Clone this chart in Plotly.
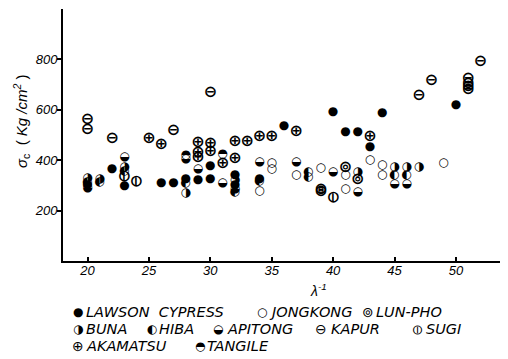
import plotly.graph_objects as go

# ---- data (lambda^-1, sigma_c in kg/cm2) ----
lawson_x = [20, 22, 23, 26, 27, 28, 29, 30, 30, 32, 32, 34, 36, 40, 41, 42, 43, 44, 50]
lawson_y = [300, 364, 297, 309, 309, 325, 321, 376, 325, 341, 301, 325, 535, 590, 511, 511, 452, 586, 621]

jongkong_x = [34, 35, 35, 37, 39, 41, 41, 43, 44, 44, 49]
jongkong_y = [277, 388, 364, 341, 368, 341, 285, 400, 380, 341, 390]

lunpho_x = [39, 39, 41, 42]
lunpho_y = [283, 272, 368, 321]

buna_x = [20, 21, 23, 28, 32, 42, 45, 46, 47]
buna_y = [330, 325, 372, 270, 321, 352, 373, 373, 372]

hiba_x = [20, 21, 23, 28, 32, 34, 38, 38, 45, 46]
hiba_y = [315, 315, 356, 309, 273, 318, 352, 333, 341, 341]

apitong_x = [20, 23, 28, 29, 31, 32, 34, 37, 40, 42, 45, 46]
apitong_y = [290, 412, 405, 364, 309, 287, 392, 392, 352, 273, 305, 305]

kapur_x = [20, 20, 22, 27, 30, 47, 48, 51, 51, 51, 51, 52]
kapur_y = [558, 519, 483, 515, 665, 653, 713, 721, 703, 690, 677, 788]

sugi_x = [23, 24, 40]
sugi_y = [333, 313, 250]

akamatsu_x = [25, 26, 29, 29, 29, 30, 30, 31, 32, 32, 33, 34, 35, 37, 43]
akamatsu_y = [483, 459, 467, 428, 408, 463, 432, 384, 471, 404, 471, 492, 491, 510, 491]

tangile_x = [28, 31]
tangile_y = [420, 424]

x_ticks = [20, 25, 30, 35, 40, 45, 50]
y_ticks = [200, 400, 600, 800]

# name, glyph, glyph font size (geometric shapes are drawn larger than operators)
series = [
    ("LAWSON CYPRESS", "●", 12, lawson_x, lawson_y),
    ("JONGKONG", "○", 12, jongkong_x, jongkong_y),
    ("LUN-PHO", "⊚", 16, lunpho_x, lunpho_y),
    ("BUNA", "◑", 12, buna_x, buna_y),
    ("HIBA", "◐", 12, hiba_x, hiba_y),
    ("APITONG", "◒", 12, apitong_x, apitong_y),
    ("KAPUR", "⊖", 16, kapur_x, kapur_y),
    ("SUGI", "⦶", 15, sugi_x, sugi_y),
    ("AKAMATSU", "⊕", 16, akamatsu_x, akamatsu_y),
    ("TANGILE", "◓", 12, tangile_x, tangile_y),
]

fig = go.Figure()
for name, glyph, gs, xs, ys in series:
    fig.add_trace(go.Scatter(
        x=xs, y=ys, mode="text", text=[glyph] * len(xs), name=name,
        textposition="middle center",
        textfont=dict(family="DejaVu Sans", size=gs, color="black", weight="bold"),
        showlegend=False, hoverinfo="skip",
    ))

# page has an 8px body margin; figure is sized so that it fills the window
OFF = 8
W, H = 508 - OFF, 359 - OFF
L, R, T, B = 63 - OFF, 3, 9 - OFF, 98
pw, ph = W - L - R, H - T - B

def px(xp):
    return (xp - OFF - L) / pw

def py(yp):
    return (H - B - (yp - OFF)) / ph

tickfont = dict(family="Liberation Sans", size=13, color="black", style="italic")
fig.update_layout(
    width=W, height=H, margin=dict(l=L, r=R, t=T, b=B, autoexpand=False),
    paper_bgcolor="white", plot_bgcolor="white",
    xaxis=dict(range=[18, 54], tickvals=x_ticks, ticks="inside", ticklen=4,
               tickcolor="black", tickwidth=1.5, showline=True, linecolor="black", linewidth=2,
               showgrid=False, zeroline=False, tickfont=tickfont, ticklabelstandoff=-4),
    yaxis=dict(range=[0, 1000], tickvals=y_ticks, ticks="outside", ticklen=4,
               tickcolor="black", tickwidth=1.5, showline=True, linecolor="black", linewidth=2,
               showgrid=False, zeroline=False, tickfont=tickfont, ticklabelstandoff=-3),
)

ann = []
ann.append(dict(x=px(21), y=py(121), xref="paper", yref="paper", textangle=-90,
                xanchor="center", yanchor="middle",
                text="<i>σ</i><sub>c</sub>  ( <i>Kg /cm<sup>2</sup></i> )",
                showarrow=False, font=dict(family="Liberation Sans", size=15, color="black")))
ann.append(dict(x=px(318), y=py(290), xref="paper", yref="paper",
                xanchor="center", yanchor="middle",
                text="<i>λ<sup>-1</sup></i>", showarrow=False,
                font=dict(family="Liberation Sans", size=14, color="black")))

# legend block drawn as text: (glyph centre x, glyph, glyph size, label left x, label)
legend_rows = [
    (312, [(78, "●", 12, 84, "LAWSON  CYPRESS"), (262, "○", 12, 267, "JONGKONG"),
           (368, "⊚", 14, 374, "LUN-PHO")]),
    (329, [(78, "◑", 12, 84, "BUNA"), (152, "◐", 12, 157, "HIBA"),
           (218, "◒", 12, 225, "APITONG"), (321, "⊖", 14, 329, "KAPUR"),
           (418, "⦶", 13, 424, "SUGI")]),
    (346, [(78, "⊕", 14, 84, "AKAMATSU"), (200, "◓", 12, 205, "TANGILE")]),
]
for yp, items in legend_rows:
    for gx, g, gsz, lx, txt in items:
        ann.append(dict(x=px(gx), y=py(yp), xref="paper", yref="paper",
                        xanchor="center", yanchor="middle", text=g, showarrow=False,
                        font=dict(family="DejaVu Sans", size=gsz, color="black")))
        ann.append(dict(x=px(lx), y=py(yp), xref="paper", yref="paper",
                        xanchor="left", yanchor="middle", text=txt, showarrow=False,
                        font=dict(family="DejaVu Sans", size=14.5, color="black", style="italic")))
fig.update_layout(annotations=ann)

fig.write_html("out.html")
